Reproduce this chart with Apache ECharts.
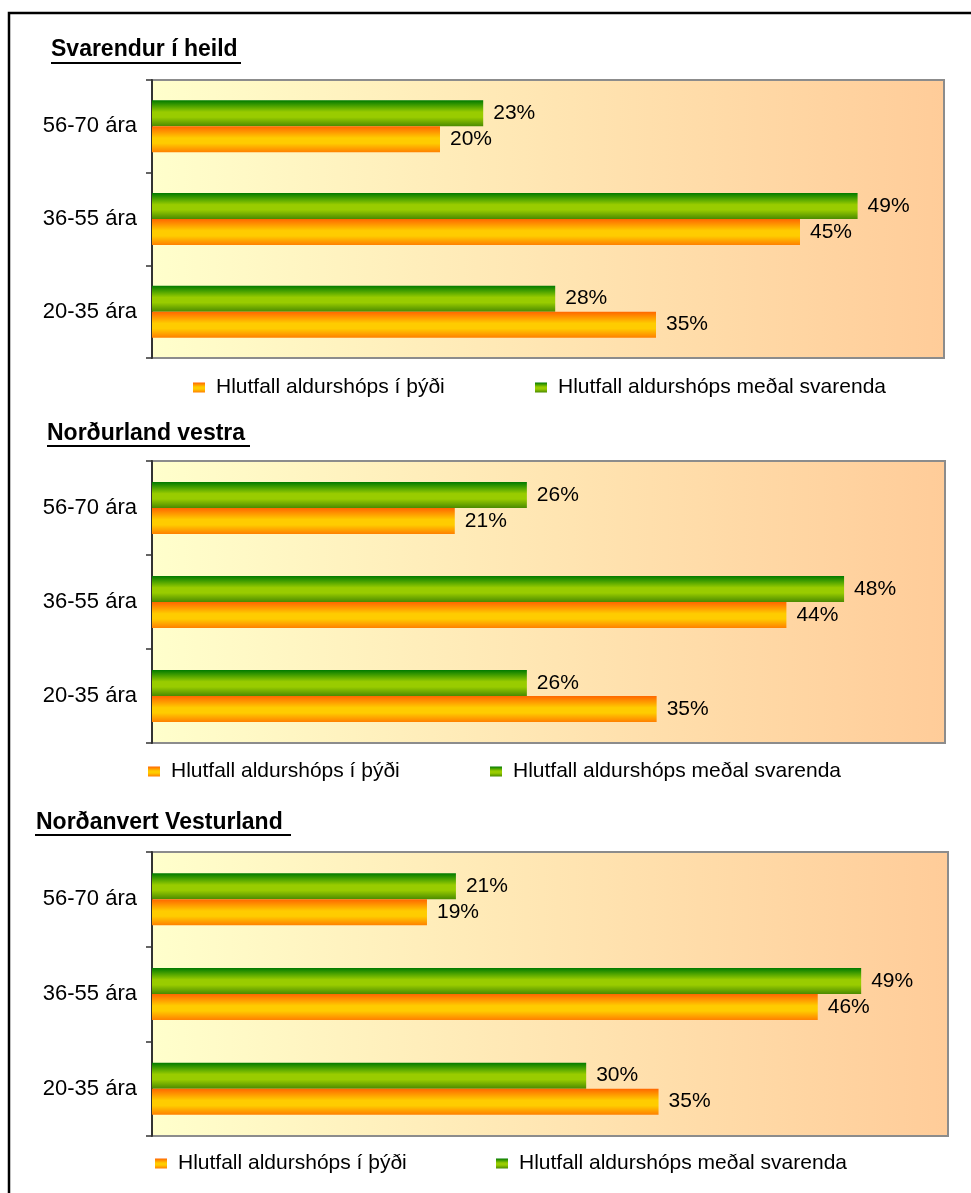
<!DOCTYPE html>
<html>
<head>
<meta charset="utf-8">
<script src="https://cdn.jsdelivr.net/npm/echarts@6/dist/echarts.min.js"></script>
<style>
  html, body { margin: 0; padding: 0; background: #fff; }
  #main { width: 971px; height: 1193px; }
</style>
</head>
<body>
<div id="main"></div>
<script>
// flokkar (neðst -> efst)
var categories = ['20-35 ára', '36-55 ára', '56-70 ára'];
var seriesNames = ['Hlutfall aldurshóps í þýði', 'Hlutfall aldurshóps meðal svarenda'];
var panelTitles = ['Svarendur í heild', 'Norðurland vestra', 'Norðanvert Vesturland'];

// hlutfall í þýði
var popHeild = [35, 45, 20];
var popNV = [35, 44, 21];
var popVest = [35, 46, 19];

// hlutfall meðal svarenda
var respHeild = [28, 49, 23];
var respNV = [26, 48, 26];
var respVest = [30, 49, 21];

var chart = echarts.init(document.getElementById('main'));
var G = echarts.graphic.LinearGradient;
var font = "'Liberation Sans', Arial, sans-serif";

var orange = new G(0, 0, 0, 1, [
  { offset: 0, color: '#ff6600' },
  { offset: 0.45, color: '#ffcc00' },
  { offset: 0.65, color: '#ffcc00' },
  { offset: 1, color: '#ff8000' }
]);
var green = new G(0, 0, 0, 1, [
  { offset: 0, color: '#007a00' },
  { offset: 0.45, color: '#99cc00' },
  { offset: 0.65, color: '#99cc00' },
  { offset: 1, color: '#4a8a00' }
]);
var plotBg = new G(0, 0, 1, 0, [
  { offset: 0, color: '#ffffcc' },
  { offset: 1, color: '#ffcc99' }
]);

// staðsetning hvers hluta
var panels = [
  { top: 80, height: 278, right: 27, titleLeft: 51, titleTop: 38, ul: [51, 62, 190], legTop: 377, leg: [193, 535], pop: popHeild, resp: respHeild },
  { top: 461, height: 282, right: 26, titleLeft: 47, titleTop: 422, ul: [47, 445, 203], legTop: 761, leg: [148, 490], pop: popNV, resp: respNV },
  { top: 852, height: 284, right: 23, titleLeft: 36, titleTop: 811, ul: [35, 834, 256], legTop: 1153, leg: [155, 496], pop: popVest, resp: respVest }
];

var grids = [], xAxes = [], yAxes = [], series = [], titles = [], legends = [], graphics = [];

panels.forEach(function (p, i) {
  grids.push({
    left: 152, right: p.right, top: p.top, height: p.height,
    show: true, backgroundColor: plotBg, borderColor: '#8c8c8c', borderWidth: 2
  });
  xAxes.push({
    gridIndex: i, type: 'value', min: 0, max: 55,
    show: false, splitLine: { show: false }
  });
  yAxes.push({
    gridIndex: i, type: 'category', data: categories,
    axisLine: { lineStyle: { color: '#333', width: 2 } },
    axisTick: { show: true, length: 6, lineStyle: { color: '#333', width: 1.5 } },
    axisLabel: { color: '#000', fontSize: 22, fontFamily: font, margin: 15 }
  });
  var lbl = {
    show: true, position: 'right', distance: 10,
    formatter: '{c}%', color: '#000', fontSize: 21, fontFamily: font
  };
  // grænt fyrst svo það lendi ofan á
  series.push({
    name: seriesNames[1], type: 'bar', xAxisIndex: i, yAxisIndex: i,
    data: p.resp, barWidth: 26, barGap: '0%',
    itemStyle: { color: green }, label: lbl
  });
  series.push({
    name: seriesNames[0], type: 'bar', xAxisIndex: i, yAxisIndex: i,
    data: p.pop, barWidth: 26, barGap: '0%',
    itemStyle: { color: orange }, label: lbl
  });
  titles.push({
    text: panelTitles[i], left: p.titleLeft, top: p.titleTop, padding: 0,
    textStyle: { fontSize: 23, fontWeight: 'bold', color: '#000', fontFamily: font }
  });
  graphics.push({
    type: 'rect', shape: { x: p.ul[0], y: p.ul[1], width: p.ul[2], height: 2 },
    style: { fill: '#000' }, silent: true
  });
  seriesNames.forEach(function (nm, k) {
    legends.push({
      data: [nm], left: p.leg[k], top: p.legTop, padding: 0,
      icon: 'rect', itemWidth: 12, itemHeight: 10, selectedMode: false,
      textStyle: { fontSize: 21, color: '#000', fontFamily: font, padding: [0, 0, 0, 6] }
    });
  });
});

// ytri rammi
graphics.push({
  type: 'rect', shape: { x: 9, y: 13, width: 1100, height: 1300 },
  style: { fill: 'none', stroke: '#000', lineWidth: 2.5 }, silent: true
});

chart.setOption({
  animation: false,
  title: titles,
  legend: legends,
  grid: grids,
  xAxis: xAxes,
  yAxis: yAxes,
  series: series,
  graphic: graphics
});
</script>
</body>
</html>
